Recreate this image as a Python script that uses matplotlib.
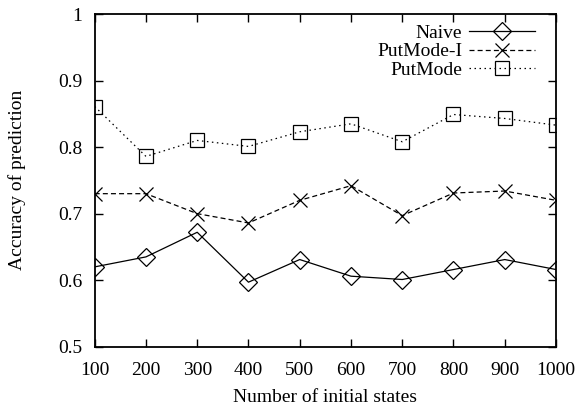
import matplotlib
matplotlib.use("Agg")
import matplotlib.pyplot as plt

plt.rcParams['font.family'] = ['Liberation Serif', 'DejaVu Serif']

states = [100, 200, 300, 400, 500, 600, 700, 800, 900, 1000]
naive = [0.620, 0.635, 0.672, 0.597, 0.631, 0.606, 0.601, 0.616, 0.631, 0.616]
putmode_i = [0.730, 0.730, 0.700, 0.686, 0.720, 0.742, 0.697, 0.731, 0.734, 0.720]
putmode = [0.861, 0.786, 0.810, 0.801, 0.823, 0.835, 0.808, 0.849, 0.843, 0.833]

x_ticks = [100, 200, 300, 400, 500, 600, 700, 800, 900, 1000]
y_ticks = [0.5, 0.6, 0.7, 0.8, 0.9, 1.0]
y_tick_labels = ["0.5", "0.6", "0.7", "0.8", "0.9", "1"]

fs = 14

fig = plt.figure(figsize=(5.76, 4.11), dpi=100)
ax = fig.add_axes([0.1644, 0.1564, 0.8009, 0.8095])

lw = 0.9
ax.plot(states, naive, color='black', lw=lw, marker='D', markersize=9.5,
        markerfacecolor='none', markeredgewidth=0.9, label='Naive')
ax.plot(states, putmode_i, color='black', lw=lw, dashes=(4, 2.5), marker='x',
        markersize=10, markeredgewidth=0.9, label='PutMode-I')
ax.plot(states, putmode, color='black', lw=lw, dashes=(1.2, 2.8), marker='s',
        markersize=10, markerfacecolor='none', markeredgewidth=0.9,
        label='PutMode')

ax.set_xlim(100, 1000)
ax.set_ylim(0.5, 1.0)
ax.set_xticks(x_ticks)
ax.set_yticks(y_ticks)
ax.set_yticklabels(y_tick_labels)

ax.tick_params(direction='in', length=5.5, width=1, top=True, right=True,
               labelsize=fs, color='black')
ax.tick_params(axis='x', pad=11)
ax.tick_params(axis='y', pad=9)
for s in ax.spines.values():
    s.set_linewidth(1.3)

ax.set_xlabel('Number of initial states', fontsize=fs, labelpad=7)
ax.set_ylabel('Accuracy of prediction', fontsize=fs, labelpad=23)

leg = ax.legend(loc='upper right', frameon=False, markerfirst=False,
                fontsize=fs, handlelength=3.4, labelspacing=0.06,
                handletextpad=0.35, bbox_to_anchor=(0.98, 1.005),
                borderaxespad=0.2)
for t in leg.get_texts():
    t.set_ha('right')
leg._legend_box.align = 'right'

fig.savefig('out.png', dpi=100)
